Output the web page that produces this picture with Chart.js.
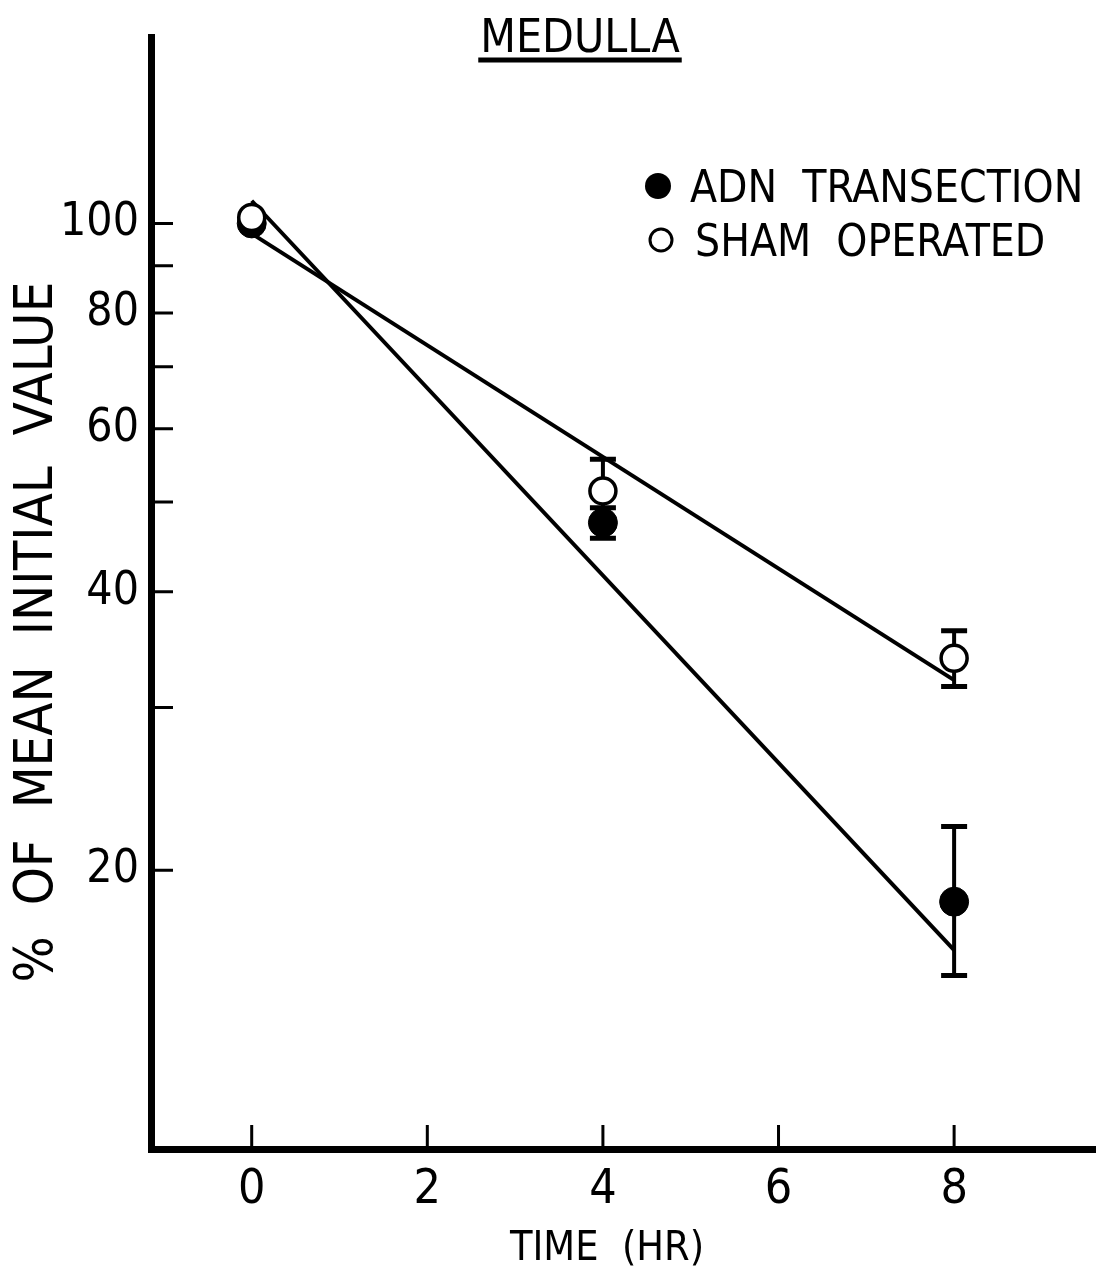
<!DOCTYPE html>
<html>
<head>
<meta charset="utf-8">
<script src="https://cdn.jsdelivr.net/npm/chart.js@4.4.1/dist/chart.umd.min.js"></script>
<style>
  html, body { margin: 0; padding: 0; background: #fff; overflow: hidden; }
  #wrap { width: 1096px; height: 1281px; position: relative; }
  #wrap canvas { display: block; }
</style>
</head>
<body>
<div id="wrap"><canvas id="chart"></canvas></div>
<script>
// ── data ──
const chartTitle = 'MEDULLA';
const xTitle = 'TIME  (HR)';
const yTitle = '%  OF  MEAN  INITIAL  VALUE';

const timePoints = [0, 4, 8];
const xTickValues = [0, 2, 4, 6, 8];
const yTickValues = [20, 30, 40, 50, 60, 70, 80, 90, 100];
const yTickLabels = [20, 40, 60, 80, 100];

const adnLabel = 'ADN  TRANSECTION';
const adnMean = [100, 47.5, 18.5];
const adnLow = [100, 45.7, 15.4];
const adnHigh = [100, 49.3, 22.3];

const shamLabel = 'SHAM  OPERATED';
const shamMean = [101.5, 51.4, 33.9];
const shamLow = [101.5, 47.5, 31.6];
const shamHigh = [101.5, 55.6, 36.3];

// fitted regression lines (log scale)
const fitTimes = [0, 8];
const adnFit = [105.8, 16.4];
const shamFit = [97.5, 32.1];

const FONT = "'Liberation Sans Narrow', 'DejaVu Sans Condensed', 'Liberation Sans', sans-serif";

function pts(xs, ys) {
  return xs.map((x, i) => ({ x: x, y: ys[i] }));
}

// error bars, drawn under the markers
const errorBars = {
  id: 'errorBars',
  beforeDatasetsDraw(chart) {
    const ctx = chart.ctx;
    const xs = chart.scales.x, ys = chart.scales.y;
    const sets = [[adnLow, adnHigh], [shamLow, shamHigh]];
    ctx.save();
    ctx.strokeStyle = '#000';
    ctx.lineCap = 'butt';
    sets.forEach(([lo, hi]) => {
      timePoints.forEach((t, i) => {
        if (lo[i] === hi[i]) return;
        const px = xs.getPixelForValue(t);
        const y1 = ys.getPixelForValue(lo[i]);
        const y2 = ys.getPixelForValue(hi[i]);
        ctx.lineWidth = 4;
        ctx.beginPath();
        ctx.moveTo(px, y1); ctx.lineTo(px, y2);
        ctx.stroke();
        ctx.lineWidth = 5;
        ctx.beginPath();
        ctx.moveTo(px - 13, y1); ctx.lineTo(px + 13, y1);
        ctx.moveTo(px - 13, y2); ctx.lineTo(px + 13, y2);
        ctx.stroke();
      });
    });
    ctx.restore();
  }
};

// inward tick marks, titles and legend
const decorations = {
  id: 'decorations',
  afterDraw(chart) {
    const ctx = chart.ctx;
    const area = chart.chartArea;
    const xs = chart.scales.x, ys = chart.scales.y;
    ctx.save();
    ctx.strokeStyle = '#000';
    ctx.lineWidth = 3;
    ctx.beginPath();
    yTickValues.forEach(v => {
      const py = ys.getPixelForValue(v);
      ctx.moveTo(area.left, py); ctx.lineTo(area.left + 22, py);
    });
    xTickValues.forEach(v => {
      const px = xs.getPixelForValue(v);
      ctx.moveTo(px, area.bottom); ctx.lineTo(px, area.bottom - 24);
    });
    ctx.stroke();

    // title, underlined
    ctx.fillStyle = '#000';
    ctx.font = '46px ' + FONT;
    ctx.textAlign = 'center';
    ctx.textBaseline = 'alphabetic';
    const tx = 580, ty = 52;
    ctx.fillText(chartTitle, tx, ty);
    const tw = ctx.measureText(chartTitle).width;
    ctx.lineWidth = 5;
    ctx.beginPath();
    ctx.moveTo(tx - tw / 2 - 2, ty + 8); ctx.lineTo(tx + tw / 2 + 2, ty + 8);
    ctx.stroke();

    // x axis title
    ctx.font = '41px ' + FONT;
    ctx.fillText(xTitle, 607, 1260);

    // y axis title
    ctx.save();
    ctx.translate(38, 632);
    ctx.rotate(-Math.PI / 2);
    ctx.font = '54px ' + FONT;
    ctx.textBaseline = 'middle';
    ctx.fillText(yTitle, 0, 0);
    ctx.restore();

    // legend
    ctx.textAlign = 'left';
    ctx.font = '44px ' + FONT;
    ctx.beginPath();
    ctx.arc(658, 186, 13, 0, Math.PI * 2);
    ctx.fill();
    ctx.fillText(adnLabel, 690, 202);
    ctx.lineWidth = 3;
    ctx.beginPath();
    ctx.arc(661, 240, 11, 0, Math.PI * 2);
    ctx.stroke();
    ctx.fillText(shamLabel, 695, 256);
    ctx.restore();
  }
};

new Chart(document.getElementById('chart'), {
  type: 'scatter',
  data: {
    datasets: [
      {
        label: 'ADN fit', type: 'line', data: pts(fitTimes, adnFit),
        borderColor: '#000', borderWidth: 4, pointRadius: 0, fill: false, order: 4
      },
      {
        label: 'Sham fit', type: 'line', data: pts(fitTimes, shamFit),
        borderColor: '#000', borderWidth: 4, pointRadius: 0, fill: false, order: 3
      },
      {
        label: adnLabel, data: pts(timePoints, adnMean),
        pointRadius: 14.5, backgroundColor: '#000', borderColor: '#000', borderWidth: 1, order: 2
      },
      {
        label: shamLabel, data: pts(timePoints, shamMean),
        pointRadius: 13, backgroundColor: '#fff', borderColor: '#000', borderWidth: 3.5, order: 1
      }
    ]
  },
  options: {
    responsive: true,
    maintainAspectRatio: false,
    animation: false,
    layout: { autoPadding: false, padding: { top: 37, right: 0, left: 0, bottom: 0 } },
    plugins: { legend: { display: false }, title: { display: false }, tooltip: { enabled: false } },
    scales: {
      x: {
        type: 'linear', min: -1.147, max: 9.616,
        afterBuildTicks: s => { s.ticks = xTickValues.map(v => ({ value: v })); },
        afterFit: s => { s.height = 132; },
        grid: { display: false },
        border: { display: true, color: '#000', width: 7 },
        ticks: { color: '#000', padding: 5, font: { family: FONT, size: 48 }, maxRotation: 0 },
        title: { display: false }
      },
      y: {
        type: 'logarithmic', min: 10, max: 159,
        afterBuildTicks: s => { s.ticks = yTickValues.map(v => ({ value: v })); },
        afterFit: s => { s.width = 151; },
        grid: { display: false },
        border: { display: true, color: '#000', width: 7 },
        ticks: {
          color: '#000', padding: 4, font: { family: FONT, size: 46 },
          callback: v => yTickLabels.includes(v) ? String(v) : ''
        },
        title: { display: false }
      }
    }
  },
  plugins: [errorBars, decorations]
});
</script>
</body>
</html>
